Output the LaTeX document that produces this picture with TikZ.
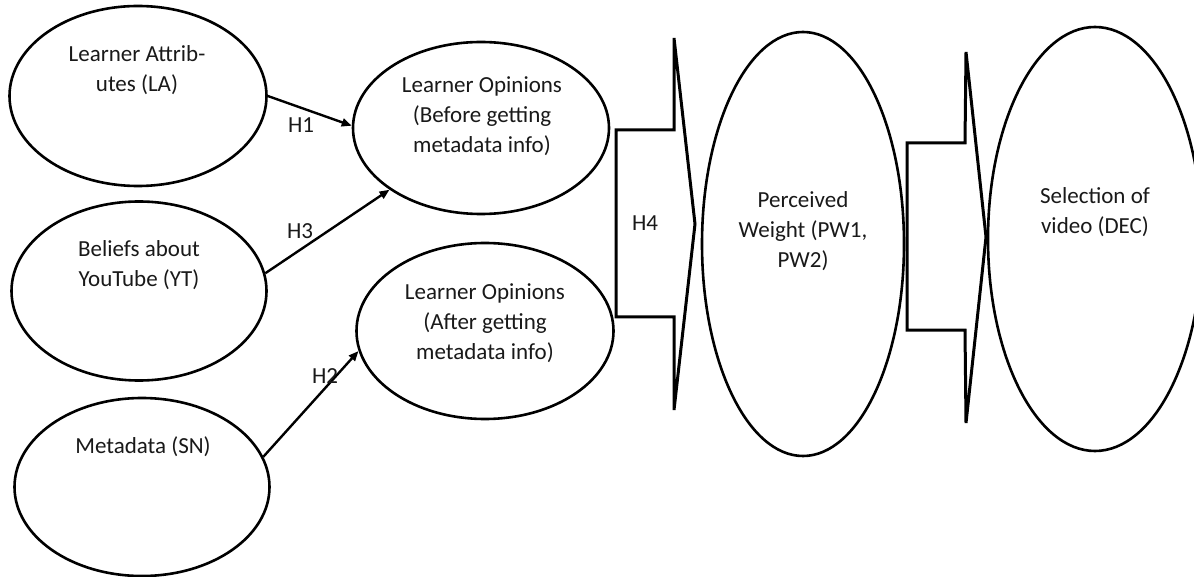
\documentclass[tikz,border=0pt]{standalone}
\usepackage{fontspec}
\setmainfont{Carlito}
\usetikzlibrary{shapes.geometric,arrows.meta}
\begin{document}
\begin{tikzpicture}[x=1pt,y=-1pt,
  ell/.style={draw,ellipse,line width=2.6pt,inner sep=0pt},
  txt/.style={align=center,font=\fontsize{23}{30}\selectfont,text=black!90,inner sep=0pt},
  hyp/.style={font=\fontsize{23}{30}\selectfont,text=black!90,inner sep=0pt},
  conn/.style={line width=2.4pt,-{Triangle[length=10pt,width=8pt]}},
  blockarrow/.style={draw,line width=3pt}]
\useasboundingbox[fill=white] (0,0) rectangle (1194,577);

% ellipses
\node[ell,minimum width=257pt,minimum height=180pt] (LA) at (138,96) {};
\node[ell,minimum width=255pt,minimum height=179pt] (YT) at (139,291) {};
\node[ell,minimum width=255pt,minimum height=178pt] (SN) at (142,487) {};
\node[ell,minimum width=256pt,minimum height=172pt] (BE) at (481,128) {};
\node[ell,minimum width=257pt,minimum height=176pt] (AF) at (485,331) {};
\node[ell,minimum width=202pt,minimum height=424pt] (PW) at (803,244) {};
\node[ell,minimum width=214pt,minimum height=424pt] (DEC) at (1095,239) {};

% texts
\node[txt] (LAt) at (137,70) {Learner Attrib-\\utes (LA)};
\node[txt] (YTt) at (139,265) {Beliefs about\\YouTube (YT)};
\node[txt] (SNt) at (143,447) {Metadata (SN)};
\node[txt] (BEt) at (482,116) {Learner Opinions\\(Before getting\\metadata info)};
\node[txt] (AFt) at (485,323) {Learner Opinions\\(After getting\\metadata info)};
\node[txt] (PWt) at (803,231) {Perceived\\Weight (PW1,\\PW2)};
\node[txt] (DECt) at (1095,212) {Selection of\\video (DEC)};

% connectors
\draw[conn] (LA.0) -- (BE.179);
\draw[conn] (YT.8) -- (BE.214);
\draw[conn] (SN.14) -- (AF.189);
\node[hyp] (H1) at (301,125) {H1};
\node[hyp] (H3) at (300,231) {H3};
\node[hyp] (H2) at (325,376) {H2};

% block arrow 1
\coordinate (a1) at (616,130);
\coordinate (a2) at (674,130);
\coordinate (a3) at (674,38);
\coordinate (a4) at (695,224);
\coordinate (a5) at (674,410);
\coordinate (a6) at (674,317);
\coordinate (a7) at (616,317);
\draw[blockarrow] (a1) -- (a2) -- (a3) -- (a4) -- (a5) -- (a6) -- (a7) -- cycle;
\node[hyp] (H4) at (645,223) {H4};

% block arrow 2
\coordinate (b1) at (907,143);
\coordinate (b2) at (965,143);
\coordinate (b3) at (966,52);
\coordinate (b4) at (986,237);
\coordinate (b5) at (966,423);
\coordinate (b6) at (965,330);
\coordinate (b7) at (907,330);
\draw[blockarrow] (b1) -- (b2) -- (b3) -- (b4) -- (b5) -- (b6) -- (b7) -- cycle;
\end{tikzpicture}
\end{document}
